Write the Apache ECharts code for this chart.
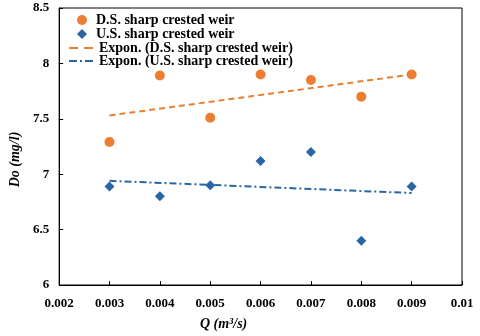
<!DOCTYPE html>
<html>
<head>
<meta charset="utf-8">
<script src="https://cdn.jsdelivr.net/npm/echarts@6/dist/echarts.min.js"></script>
<style>
  html, body { margin: 0; padding: 0; background: #fff; }
  #main { width: 480px; height: 336px; }
</style>
</head>
<body>
<div id="main"></div>
<script>
// flow rate Q (m3/s)
var qValues = [0.003, 0.004, 0.005, 0.006, 0.007, 0.008, 0.009];
// dissolved oxygen readings
var dsValues = [7.29, 7.89, 7.51, 7.9, 7.85, 7.7, 7.9];
var usValues = [6.89, 6.8, 6.9, 7.12, 7.2, 6.4, 6.89];
// trendline ends
var trendQ = [0.003, 0.009];
var dsTrend = [7.53, 7.9];
var usTrend = [6.94, 6.83];

var seriesNames = [
  "D.S. sharp crested weir",
  "U.S. sharp crested weir",
  "Expon. (D.S. sharp crested weir)",
  "Expon. (U.S. sharp crested weir)"
];

function pairs(xs, ys) {
  return xs.map(function (x, i) { return [x, ys[i]]; });
}

var orange = "#ED7D31";
var blue = "#2A65A6";
var font = "Liberation Serif";

// legend icons for the dashed trendlines
var dashIcon = "path://M0,0h9v2h-9zM15,0h9v2h-9z";
var dashDotIcon = "path://M0,0h8v2h-8zM11,0h2v2h-2zM16,0h8v2h-8z";

var myChart = echarts.init(document.getElementById("main"));
var option = {
  animation: false,
  grid: {
    left: 49,
    right: 18,
    top: 8,
    bottom: 50,
    show: true,
    borderColor: "#000",
    borderWidth: 1
  },
  legend: [
    {
      orient: "vertical",
      left: 72,
      top: 8,
      itemGap: 0,
      itemWidth: 10,
      itemHeight: 10,
      textStyle: {
        fontFamily: font, fontWeight: "bold", fontSize: 14, color: "#000",
        padding: [0, 0, 0, 4]
      },
      data: [
        { name: seriesNames[0], icon: "circle" },
        { name: seriesNames[1], icon: "diamond" }
      ]
    },
    {
      orient: "vertical",
      left: 64,
      top: 36,
      itemGap: -1,
      itemWidth: 26,
      itemHeight: 2,
      textStyle: { fontFamily: font, fontWeight: "bold", fontSize: 14, color: "#000" },
      data: [
        { name: seriesNames[2], icon: dashIcon },
        { name: seriesNames[3], icon: dashDotIcon }
      ]
    }
  ],
  xAxis: {
    type: "value",
    min: 0.002,
    max: 0.01,
    interval: 0.001,
    name: "Q (m³/s)",
    nameLocation: "middle",
    nameGap: 32,
    nameTextStyle: {
      fontFamily: font, fontWeight: "bold", fontStyle: "italic", fontSize: 14, color: "#000",
      padding: [0, 74, 0, 0]
    },
    axisLine: { lineStyle: { color: "#000" } },
    axisTick: { inside: true, length: 4, lineStyle: { color: "#000" } },
    splitLine: { show: false },
    axisLabel: {
      fontFamily: font, fontWeight: "bold", fontSize: 13, color: "#000", margin: 12,
      formatter: function (v) { return parseFloat(v.toFixed(3)).toString(); }
    }
  },
  yAxis: {
    type: "value",
    min: 6,
    max: 8.5,
    interval: 0.5,
    name: "Do (mg/l)",
    nameLocation: "middle",
    nameGap: 28,
    nameTextStyle: {
      fontFamily: font, fontWeight: "bold", fontStyle: "italic", fontSize: 14, color: "#000",
      padding: [0, 26, 0, 0]
    },
    axisLine: { show: true, lineStyle: { color: "#000" } },
    axisTick: { show: true, inside: true, length: 4, lineStyle: { color: "#000" } },
    splitLine: { show: false },
    axisLabel: { fontFamily: font, fontWeight: "bold", fontSize: 13, color: "#000", margin: 10 }
  },
  series: [
    {
      name: seriesNames[0],
      type: "scatter",
      symbol: "circle",
      symbolSize: 10,
      itemStyle: { color: orange, opacity: 1 },
      data: pairs(qValues, dsValues)
    },
    {
      name: seriesNames[1],
      type: "scatter",
      symbol: "diamond",
      symbolSize: 10,
      itemStyle: { color: blue, opacity: 1 },
      data: pairs(qValues, usValues)
    },
    {
      name: seriesNames[2],
      type: "line",
      showSymbol: false,
      symbol: "none",
      itemStyle: { color: orange },
      lineStyle: { color: orange, width: 2, type: [6, 4] },
      data: pairs(trendQ, dsTrend)
    },
    {
      name: seriesNames[3],
      type: "line",
      showSymbol: false,
      symbol: "none",
      itemStyle: { color: blue },
      lineStyle: { color: blue, width: 2, type: [7, 3, 2, 3] },
      data: pairs(trendQ, usTrend)
    }
  ]
};
option && myChart.setOption(option);
</script>
</body>
</html>
